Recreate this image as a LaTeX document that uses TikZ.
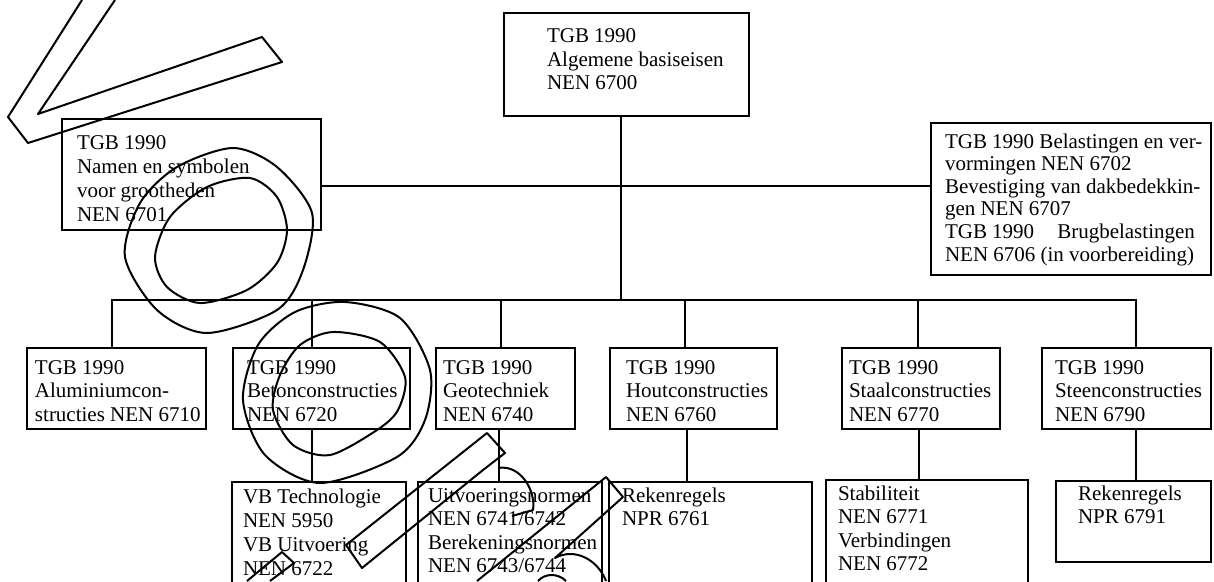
\documentclass[tikz,border=0pt]{standalone}
\usepackage{fontspec}
\setmainfont{Liberation Serif}

\begin{document}
\begin{tikzpicture}[
        x = 1pt, y = -1pt,
        every node/.style = {font = \fontsize{21}{23.5}\selectfont},
        norm/.style = {draw, line width = 2.4pt, anchor = north west, outer sep = 0pt,
                       inner xsep = 3pt, inner ysep = 0pt, align = flush left},
        link/.style = {line width = 2pt},
        pen/.style = {line width = 2pt, line join = round}
    ]

      \useasboundingbox (0,0) rectangle (1214,581);
      \clip (0,0) rectangle (1214,581);

      % basis
      \node[norm, text width = 239pt, text height = 29.5pt, text depth = 73.5pt] (t_0) at (504,13)
            {\leftskip=40pt TGB 1990\\ Algemene basiseisen\\ NEN 6700\par};
      \node[norm, font = \fontsize{21}{24.2}\selectfont,
            text width = 253pt, text height = 30pt, text depth = 81pt] (t_l) at (62,119)
            {\leftskip=12pt TGB 1990\\ Namen en symbolen\\ voor grootheden\\ NEN 6701\par};
      \node[norm, font = \fontsize{21}{22.6}\selectfont,
            text width = 274pt, text height = 25pt, text depth = 127pt] (t_r) at (931,123)
            {\leftskip=11pt TGB 1990 Belastingen en ver-\\ vormingen NEN 6702\\
             Bevestiging van dakbedekkin-\\ gen NEN 6707\\
             TGB 1990\hspace{23pt}Brugbelastingen\\ NEN 6706 (in voorbereiding)\par};

      % materialen
      \node[norm, text width = 173pt, text height = 26pt, text depth = 55pt] (b_1) at (27,348)
            {\leftskip=5pt TGB 1990\\ Aluminiumcon-\\ structies NEN 6710\par};
      \node[norm, text width = 171pt, text height = 26pt, text depth = 55pt] (b_2) at (233,348)
            {\leftskip=11pt TGB 1990\\ Betonconstructies\\ NEN 6720\par};
      \node[norm, text width = 133pt, text height = 26pt, text depth = 55pt] (b_3) at (436,348)
            {\leftskip=4pt TGB 1990\\ Geotechniek\\ NEN 6740\par};
      \node[norm, text width = 161pt, text height = 26pt, text depth = 55pt] (b_4) at (610,348)
            {\leftskip=13pt TGB 1990\\ Houtconstructies\\ NEN 6760\par};
      \node[norm, text width = 152pt, text height = 26pt, text depth = 55pt] (b_5) at (842,348)
            {\leftskip=4pt TGB 1990\\ Staalconstructies\\ NEN 6770\par};
      \node[norm, text width = 163pt, text height = 26pt, text depth = 55pt] (b_6) at (1042,348)
            {\leftskip=10pt TGB 1990\\ Steenconstructies\\ NEN 6790\par};

      % uitwerkingen
      \node[norm, font = \fontsize{21}{24.2}\selectfont,
            text width = 168pt, text height = 21pt, text depth = 97pt] (c_2) at (232,482)
            {\leftskip=8pt VB Technologie\\ NEN 5950\\ VB Uitvoering\\ NEN 6722\par};
      \node[norm, text width = 178pt, text height = 20pt, text depth = 98pt] (c_3) at (418,482)
            {\leftskip=7pt Uitvoeringsnormen\\ NEN 6741/6742\\ Berekeningsnormen\\ NEN 6743/6744\par};
      \node[norm, text width = 197pt, text height = 20pt, text depth = 98pt] (c_4) at (609,482)
            {\leftskip=10pt Rekenregels\\ NPR 6761\par};
      \node[norm, text width = 196pt, text height = 20pt, text depth = 100pt] (c_5) at (826,480)
            {\leftskip=9pt Stabiliteit\\ NEN 6771\\ Verbindingen\\ NEN 6772\par};
      \node[norm, text width = 149pt, text height = 19pt, text depth = 62pt] (c_6) at (1056,481)
            {\leftskip=19pt Rekenregels\\ NPR 6791\par};

      \coordinate (bus) at (621,300);
      \coordinate (mid) at (621,186);

      \draw[link] (bus) -- (bus |- t_0.south);
      \draw[link] (mid -| t_l.east) -- (mid -| t_r.west);
      \draw[link] ([xshift=-4.5pt]b_1.north) |- (bus)
                  ([xshift=-9.5pt]b_2.north) |- (bus)
                  ([xshift=-4.5pt]b_3.north) |- (bus)
                  ([xshift=-8.5pt]b_4.north) |- (bus)
                  ([xshift=-3pt]b_5.north)   |- (bus)
                  ([xshift=9.5pt]b_6.north)  |- (bus);
      \draw[link] ([xshift=-9.5pt]b_2.south) -- ([xshift=-7pt]c_2.north)
                  ([xshift=-6.5pt]b_3.south) -- ([xshift=-11pt]c_3.north)
                  ([xshift=-6.5pt]b_4.south) -- ([xshift=-23.5pt]c_4.north)
                  ([xshift=-2pt]b_5.south)   -- ([xshift=-8pt]c_5.north)
                  ([xshift=9.5pt]b_6.south)  -- ([xshift=2.5pt]c_6.north);

      % pen marks on the page
      \draw[pen] (82,0) -- (8,117) -- (28,143) -- (282,62) -- (262,37) -- (38,114) -- (115,0);
      \draw[pen] plot[smooth cycle] coordinates {(233,148) (277,167) (312,213) (303,270) (277,310)
                                                 (207,333) (157,310) (125,257) (140,203) (177,167)};
      \draw[pen] plot[smooth cycle] coordinates {(250,178) (277,197) (287,230) (277,263) (247,290)
                                                 (200,303) (167,287) (155,257) (170,217) (207,187)};
      \draw[pen] plot[smooth cycle] coordinates {(345,302) (400,318) (430,370) (425,420) (397,457)
                                                 (320,483) (265,455) (243,400) (258,345) (295,312)};
      \draw[pen] plot[smooth cycle] coordinates {(333,332) (380,342) (405,377) (398,410) (377,430)
                                                 (330,455) (293,445) (273,410) (280,375) (300,345)};
      \draw[pen] (487,433) -- (505,453) -- (483,470) -- (362,568) -- (346,545) -- cycle;
      \draw[pen] (498,468) .. controls (520,464) and (536,490) .. (533,510) -- (512,516);
      \draw[pen] (477,581) -- (606,477) -- (623,497) -- (555,558)
                 .. controls (575,547) and (598,560) .. (606,581);
      \draw[pen] (538,581) .. controls (545,573) and (558,573) .. (566,581);
      \draw[pen] (247,581) -- (282,552) -- (294,563) -- (270,581);

\end{tikzpicture}
\end{document}
